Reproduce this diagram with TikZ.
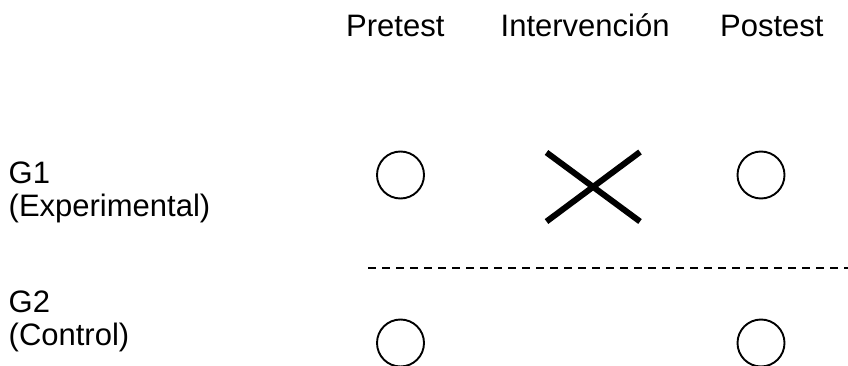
\documentclass[tikz,border=0pt]{standalone}
\usepackage{fontspec}
\setmainfont{Liberation Sans}
\begin{document}
\begin{tikzpicture}[x=1pt,y=-1pt,
  lbl/.style={anchor=base west, inner sep=0pt, font=\fontsize{31}{36}\selectfont},
  obs/.style={circle, draw, line width=1.9pt, minimum size=47pt, inner sep=0pt},
  cross/.style={line width=6pt},
  divider/.style={line width=2pt, dash pattern=on 7.3pt off 6.7pt}]
\useasboundingbox (0,0) rectangle (848,366);
% headers
\node[lbl] (pre) at (346,37) {Pretest};
\node[lbl] (int) at (500.5,37) {Intervención};
\node[lbl] (post) at (720,37) {Postest};
% group labels
\node[lbl] (g1) at (8.5,183) {G1};
\node[lbl] (g1s) at (8.5,216) {(Experimental)};
\node[lbl] (g2) at (8.5,312) {G2};
\node[lbl] (g2s) at (8.5,345) {(Control)};
% observations
\node[obs] (o1) at (400.5,175) {};
\node[obs] (o2) at (761,175) {};
\node[obs] (o3) at (400.5,343) {};
\node[obs] (o4) at (761,343) {};
% intervention cross
\coordinate (xa) at (546.5,152.5);
\coordinate (xb) at (640,221.5);
\coordinate (xc) at (640,152);
\coordinate (xd) at (546.5,221.5);
\draw[cross] (xa) -- (xb);
\draw[cross] (xc) -- (xd);
% divider
\coordinate (da) at (368.3,268);
\coordinate (db) at (848,268);
\draw[divider] (da) -- (db);
\end{tikzpicture}
\end{document}
